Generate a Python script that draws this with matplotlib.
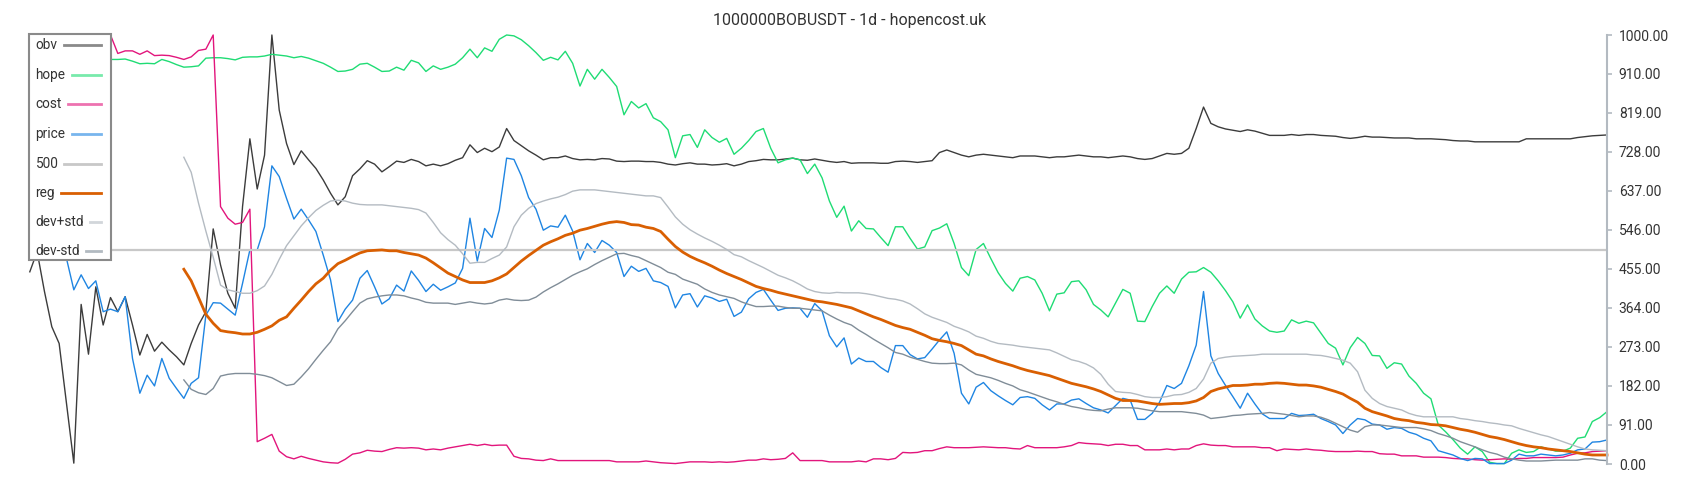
import numpy as np
import matplotlib.pyplot as plt
from matplotlib.lines import Line2D
from matplotlib.patches import Rectangle

plt.rcParams['font.family'] = ['Roboto', 'DejaVu Sans']

title = "1000000BOBUSDT - 1d - hopencost.uk"

obv = [448, 495, 402, 320, 281, 141, 2, 372, 256, 413, 324, 388, 355, 390, 324, 254, 302, 263, 284, 266,
       250, 231, 281, 324, 355, 548, 464, 398, 363, 600, 758, 641, 720, 1000, 825, 747, 698, 730, 709, 689,
       662, 631, 604,
       623, 672, 688, 707, 699, 681, 693, 706, 703, 710, 705, 695, 699, 695, 700, 708, 714, 744, 726, 736,
       728, 739, 782, 754, 742, 730, 720, 709, 714, 714, 718, 712, 709, 710, 709, 712, 711, 706, 705, 706,
       706, 705, 705,
       703, 699, 697, 700, 702, 699, 699, 697, 698, 700, 695, 699, 705, 707, 710, 709, 709, 711, 713, 709,
       708, 711, 708, 705, 703, 705, 701, 702, 702, 702, 701, 701, 705, 706, 705, 703, 705, 707, 726, 732,
       726, 720, 716, 720,
       722, 720, 718, 716, 714, 718, 718, 718, 716, 714, 716, 716, 718, 720, 718, 716, 716, 714, 716, 718,
       716, 712, 710, 712, 718, 724, 722, 724, 736, 782, 832, 794, 786, 781, 778, 775, 779, 776, 771, 766,
       766, 766, 768, 766,
       768, 768, 766, 765, 764, 761, 759, 761, 764, 762, 762, 761, 760, 760, 760, 758, 758, 758, 757, 756,
       754, 753, 753, 751, 751, 751, 751, 751, 751, 751, 758, 758, 758, 758, 758, 758, 758, 761, 763, 765,
       766, 767]

hope = [946, 946, 947, 946, 944, 942, 943, 944, 945, 943, 943, 943, 943, 944, 939, 933, 934, 933, 943, 938,
        931, 925, 926, 928, 946, 947, 947, 945, 942, 948, 949, 949, 951, 955, 953, 951, 947, 950, 946, 940,
        934, 925, 915,
        916, 920, 932, 934, 925, 915, 916, 925, 918, 941, 935, 915, 928, 920, 925, 932, 947, 967, 947, 970,
        962, 990, 1000, 998, 989, 975, 959, 941, 948, 942, 962, 934, 881, 920, 897, 920, 901, 880, 814, 845,
        830, 840, 807,
        798, 779, 714, 765, 768, 738, 779, 761, 750, 759, 722, 736, 754, 775, 782, 736, 702, 709, 713, 709,
        677, 699, 667, 613, 575, 601, 543, 567, 549, 548, 528, 509, 553, 553, 526, 501, 506, 544, 550, 560,
        514, 458, 439, 500,
        514, 479, 446, 421, 403, 433, 437, 429, 398, 357, 396, 399, 425, 427, 406, 372, 359, 343, 375, 407,
        398, 333, 332, 367, 398, 415, 398, 431, 447, 448, 458, 447, 427, 404, 378, 340, 371, 338, 322, 310,
        307, 310, 336, 328,
        333, 329, 305, 281, 270, 231, 271, 295, 281, 253, 252, 223, 236, 233, 205, 188, 165, 152, 91, 75,
        57, 37, 23, 40, 29, 4, 1, 1, 25, 33, 27, 29, 40, 35, 30, 30, 37, 60, 63, 99,
        108, 122]

cost = [1000, 1000, 1000, 1000, 1000, 1000, 1000, 1000, 1000, 1000, 1000, 1000,
        957, 963, 963, 955, 963, 952, 953, 952, 948, 943, 949, 964, 967, 1000, 600, 573, 559, 563,
        594, 52, 60, 69, 30, 17, 12, 18, 13, 9, 5, 3, 2,
        11, 23, 26, 32, 30, 29, 34, 38, 37, 38, 37, 33, 35, 33, 37, 40, 43, 46, 43, 46,
        43, 44, 44, 18, 13, 12, 9, 8, 12, 8, 8, 8, 8, 8, 8, 8, 8, 5, 5, 5,
        5, 7, 5,
        3, 2, 1, 3, 5, 5, 5, 4, 5, 4, 5, 7, 9, 9, 12, 10, 11, 13, 26, 8,
        8, 8, 8, 5, 5, 5, 5, 7, 5, 12, 12, 10, 13, 27, 26, 27, 31, 31, 36, 40,
        38, 38, 38, 39,
        40, 39, 38, 38, 36, 35, 43, 38, 38, 38, 38, 40, 43, 50, 48, 47, 46, 43, 46, 46,
        43, 43, 33, 33, 33, 35, 33, 35, 35, 43, 47, 44, 43, 43, 40, 40, 40, 40, 38, 38,
        31, 35, 34, 33,
        35, 33, 32, 30, 29, 29, 29, 30, 29, 29, 24, 23, 23, 19, 19, 19, 16, 16, 16, 15,
        13, 12, 12, 10, 9, 10, 11, 12, 11, 13, 13, 15, 15, 15, 15, 16, 21, 25, 26, 29,
        30, 31]

price = [476, 487, 495, 503, 510, 479, 406, 441, 409, 427, 355, 361, 355, 390, 246, 165, 207, 182, 246, 200,
         176, 153, 188, 201, 347, 376, 375, 361, 347, 421, 499, 499, 553, 695, 670, 619, 571, 594, 569, 542,
         487, 429, 332,
         361, 382, 433, 451, 413, 373, 385, 417, 403, 450, 428, 402, 419, 405, 413, 422, 456, 573, 473, 549,
         528, 592, 713, 710, 672, 621, 594, 545, 555, 552, 580, 543, 476, 514, 493, 521, 510, 493, 437, 461,
         449, 456, 427,
         423, 414, 364, 394, 397, 366, 392, 387, 379, 384, 344, 354, 385, 400, 407, 382, 358, 363, 364, 363,
         342, 374, 357, 299, 273, 294, 233, 247, 239, 239, 225, 214, 276, 276, 255, 245, 248, 268, 289, 308,
         258, 165, 140, 179,
         190, 171, 159, 148, 138, 155, 157, 153, 138, 126, 140, 140, 149, 152, 141, 131, 126, 119, 136, 153,
         149, 104, 104, 118, 144, 183, 176, 188, 229, 277, 402, 252, 211, 183, 157, 130, 165, 140, 117, 106,
         106, 106, 118, 113,
         114, 116, 106, 99, 91, 71, 91, 106, 103, 93, 91, 81, 85, 83, 74, 69, 60, 54, 31, 26,
         21, 13, 8, 13, 12, 1, 1, 1, 9, 23, 19, 19, 23, 21, 19, 21, 25, 33, 35, 51,
         52, 56]

level = 500
band_start = 21  # regression / band series begin on this day

reg = [454, 427, 388, 349, 328, 311, 308, 306, 303, 303, 307, 314, 322, 335, 343, 363, 382, 402, 420, 433,
       452, 467,
       475, 484, 492, 497, 498, 499, 497, 497, 493, 490, 487, 480, 469, 457, 445, 437, 429, 423, 423, 423,
       427, 434, 443, 458, 473, 486, 498, 510, 518, 525, 533, 538, 545, 549, 554, 559, 563, 565, 563, 558,
       557, 552, 549,
       542, 524, 507, 494, 484, 476, 469, 461, 452, 444, 437, 430, 422, 414, 409, 405, 400, 396, 392, 388,
       384, 380, 378, 375, 372, 368, 364, 357, 350, 343, 337, 330, 323, 318, 314, 307, 300, 292, 288, 285,
       281, 276, 266, 256,
       252, 245, 239, 234, 229, 223, 218, 214, 210, 206, 200, 194, 188, 184, 180, 175, 169, 161, 153, 148,
       148, 147, 144, 141, 139, 140, 141, 141, 143, 147, 155, 169, 175, 179, 183, 183, 184, 186, 186, 188,
       189, 188, 186, 184,
       184, 182, 179, 174, 169, 163, 153, 144, 130, 122, 117, 112, 106, 103, 101, 97, 95, 92, 91, 89,
       85, 81, 78, 74, 69, 64, 61, 57, 52, 47, 43, 40, 38, 35, 33, 31, 29, 26, 23, 21,
       21, 21]

dev_plus = [715, 680, 608, 543, 482, 417, 406, 402, 398, 398, 404, 415, 442, 477, 509, 532, 555, 574, 591, 603,
            613, 615,
            613, 608, 605, 604, 604, 604, 602, 600, 598, 596, 593, 585, 563, 539, 523, 510, 490, 468, 470, 470,
            479, 487, 506, 553, 580, 596, 607, 613, 618, 622, 628, 636, 639, 639, 639, 637, 635, 633, 631, 629,
            627, 625, 625,
            621, 599, 576, 559, 546, 536, 527, 519, 510, 500, 488, 483, 474, 466, 458, 449, 440, 434, 427, 418,
            408, 402, 399, 398, 400, 399, 399, 399, 397, 394, 390, 386, 384, 380, 373, 362, 350, 342, 336, 330,
            321, 315, 308, 298,
            293, 286, 281, 279, 277, 274, 272, 270, 268, 266, 259, 251, 243, 239, 233, 224, 209, 186, 169, 167,
            166, 162, 157, 155, 155, 157, 161, 162, 167, 176, 198, 235, 246, 249, 251, 252, 253, 254, 256, 256,
            256, 256, 256, 256,
            256, 254, 253, 250, 246, 242, 235, 215, 172, 153, 141, 134, 130, 126, 118, 113, 110, 110, 110, 110,
            110, 106, 104, 101, 99, 96, 94, 91, 89, 83, 78, 73, 68, 64, 58, 52, 46, 40, 35, 33,
            32, 31]

dev_minus = [196, 174, 166, 162, 176, 205, 209, 211, 211, 211, 209, 206, 201, 192, 183, 186, 203, 222, 244, 265,
             285, 315,
             334, 355, 375, 385, 389, 392, 394, 394, 392, 387, 383, 377, 375, 375, 375, 372, 375, 378, 375, 373,
             375, 382, 385, 382, 381, 382, 389, 401, 411, 420, 430, 440, 448, 455, 465, 474, 482, 490, 491, 486,
             482, 474, 466,
             458, 447, 442, 431, 425, 419, 408, 400, 394, 390, 386, 378, 372, 367, 367, 368, 368, 365, 363, 363,
             361, 359, 357, 347, 338, 330, 324, 312, 302, 291, 281, 271, 260, 256, 249, 244, 239, 235, 234, 234,
             235, 231, 219, 209,
             205, 201, 195, 188, 182, 173, 168, 162, 156, 150, 145, 139, 134, 131, 127, 125, 124, 128, 131, 131,
             131, 130, 127, 124, 122, 122, 122, 122, 120, 118, 114, 106, 108, 110, 113, 114, 116, 117, 118, 120,
             118, 116, 113, 110,
             112, 112, 109, 103, 95, 87, 79, 74, 87, 91, 91, 89, 87, 85, 85, 85, 82, 78, 71, 66,
             60, 52, 46, 40, 33, 27, 23, 16, 12, 9, 7, 7, 7, 8, 9, 9, 9, 9, 12, 12,
             9, 8]

yticks = [0, 91, 182, 273, 364, 455, 546, 637, 728, 819, 910, 1000]

labels = ["obv", "hope", "cost", "price", "500", "reg", "dev+std", "dev-std"]
colors = ["#3c3c3c", "#1fdc74", "#e2157c", "#1f85e2", "#c8c8c8", "#d95f02", "#b4bbc2", "#808d98"]
widths = [1.0, 1.0, 1.0, 1.0, 1.6, 2.0, 1.0, 1.0]

W, H = 1700, 500
fig = plt.figure(figsize=(W / 100, H / 100), dpi=100)
ax = fig.add_axes([29.8 / W, 36 / H, (1607 - 29.8) / W, 429 / H])

days = np.arange(len(obv))
band_days = days[band_start:]

ax.plot(days, obv, color=colors[0], lw=widths[0], clip_on=False)
ax.plot(days, hope, color=colors[1], lw=widths[1], clip_on=False)
ax.plot(days, cost, color=colors[2], lw=widths[2], clip_on=False)
ax.plot(days, price, color=colors[3], lw=widths[3], clip_on=False)
ax.axhline(level, color=colors[4], lw=widths[4])
ax.plot(band_days, reg, color=colors[5], lw=widths[5], clip_on=False)
ax.plot(band_days, dev_plus, color=colors[6], lw=widths[6], clip_on=False)
ax.plot(band_days, dev_minus, color=colors[7], lw=widths[7], clip_on=False)

ax.set_xlim(days[0], days[-1])
ax.set_ylim(0, 1000)
for s in ["left", "top", "bottom"]:
    ax.spines[s].set_visible(False)
ax.spines["right"].set_color("#b3bac1")
ax.spines["right"].set_linewidth(1.5)
ax.set_xticks([])
ax.yaxis.tick_right()
ax.set_yticks(yticks)
ax.set_yticklabels([f"{v:.2f}" for v in yticks])
ax.tick_params(axis="y", length=3.5, width=1.2, color="#b3bac1", labelsize=10, labelcolor="#333333", pad=5)

fig.text(0.5, 1 - 20 / H, title, ha="center", va="center", fontsize=11.5, color="#333333")

# legend box drawn by hand: label on the left, line filling the rest
box = Rectangle((29 / W, 1 - 260 / H), 82 / W, 226 / H, transform=fig.transFigure,
                facecolor="white", edgecolor="#8a8a8a", lw=1.5, zorder=10)
fig.add_artist(box)
rows = [45, 75, 104, 134, 164, 193, 222, 251]
texts = []
for lab, yy in zip(labels, rows):
    t = fig.text(35.5 / W, 1 - yy / H, lab, ha="left", va="center", fontsize=9.8, color="#333333", zorder=11)
    texts.append(t)
fig.canvas.draw()
r = fig.canvas.get_renderer()
for t, yy, c, lw, lab in zip(texts, rows, colors, widths, labels):
    x1 = t.get_window_extent(r).x1 + 6
    a = 1.0 if lab in ("reg", "500") else 0.6
    fig.add_artist(Line2D([x1 / W, 101 / W], [1 - yy / H, 1 - yy / H], transform=fig.transFigure,
                          color=c, lw=max(lw, 2.0), alpha=a, zorder=11))

fig.savefig("out.png", dpi=100)
